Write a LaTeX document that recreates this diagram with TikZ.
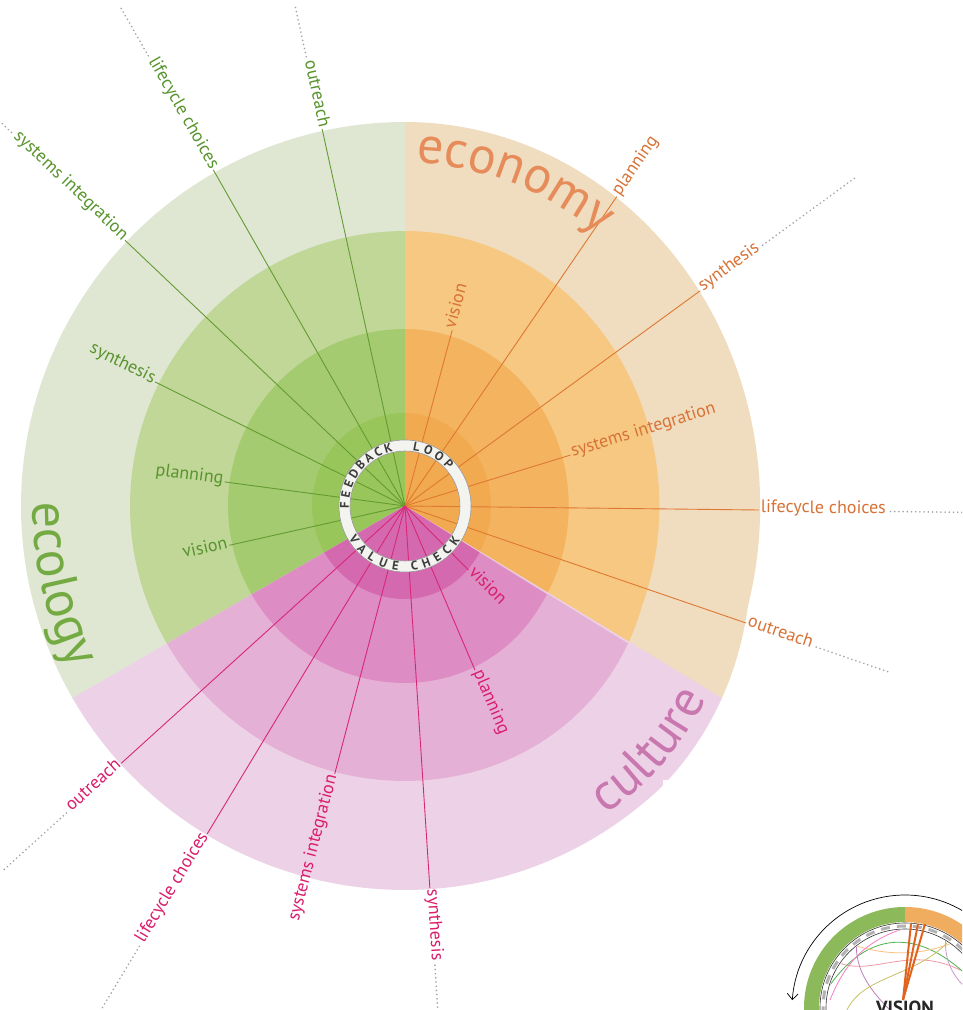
\documentclass[tikz,border=0pt]{standalone}
\usepackage{fontspec}
\setmainfont{PT Sans}
\usetikzlibrary{calc,decorations.text,arrows.meta}
% ring colours
\definecolor{gA}{RGB}{223,231,211}
\definecolor{gB}{RGB}{193,215,152}
\definecolor{gC}{RGB}{165,203,112}
\definecolor{gD}{RGB}{152,198,90}
\definecolor{oA}{RGB}{240,220,190}
\definecolor{oB}{RGB}{246,200,130}
\definecolor{oC}{RGB}{244,180,95}
\definecolor{oD}{RGB}{242,170,80}
\definecolor{pA}{RGB}{237,210,231}
\definecolor{pB}{RGB}{229,176,214}
\definecolor{pC}{RGB}{221,140,196}
\definecolor{pD}{RGB}{213,105,175}
% label / spoke colours
\definecolor{gL}{RGB}{88,148,45}
\definecolor{gS}{RGB}{100,155,50}
\definecolor{oL}{RGB}{215,115,55}
\definecolor{oS}{RGB}{222,120,50}
\definecolor{pL}{RGB}{218,30,108}
\definecolor{pS}{RGB}{214,40,118}
\definecolor{gBig}{RGB}{115,170,65}
\definecolor{oBig}{RGB}{230,140,90}
\definecolor{pBig}{RGB}{200,120,175}
\definecolor{dotc}{RGB}{160,160,170}
\definecolor{ringc}{RGB}{243,243,240}
\definecolor{ringT}{RGB}{60,60,60}
\definecolor{tG}{RGB}{140,185,90}
\definecolor{tO}{RGB}{240,172,95}
\definecolor{tO2}{RGB}{225,100,30}
\newcommand\bigfont{\fontsize{52}{56}\selectfont}
\newcommand\polarpt[3]{\coordinate (#1) at ({405+gx((#3)*cos(#2),(#3)*sin(#2))},{504+(#3)*sin(#2)});}
\newcommand\ringsector[4]{\fill[#1] (ctr) -- plot[domain=#2:#3,samples=100] ({405+gx((#4)*cos(\x),(#4)*sin(\x))},{504+(#4)*sin(\x)}) -- cycle;}
\newcommand\spokeout[5]{\polarpt{#1p}{#2}{#3}%
  \pgfmathsetmacro\spang{atan2((#3)*sin(#2),gx((#3)*cos(#2),(#3)*sin(#2)))}%
  \node[lbl,text=#5L,anchor=mid west,rotate=\spang] (#1) at (#1p) {#4};%
  \draw[spk,#5S] (ctr) -- (#1.mid west);}
\newcommand\spokein[5]{\polarpt{#1p}{#2}{#3}%
  \pgfmathsetmacro\spang{atan2((#3)*sin(#2),gx((#3)*cos(#2),(#3)*sin(#2)))}%
  \node[lbl,text=#5L,anchor=mid east,rotate=\spang+180] (#1) at (#1p) {#4};%
  \draw[spk,#5S] (ctr) -- (#1.mid east);}
\newcommand\dotout[2]{\coordinate (#1d) at ($(ctr)!#2pt!(#1.mid east)$);\draw[dotl,shorten <=3pt] (#1.mid east) -- (#1d);}
\newcommand\dotin[2]{\coordinate (#1d) at ($(ctr)!#2pt!(#1.mid west)$);\draw[dotl,shorten <=3pt] (#1.mid west) -- (#1d);}
\begin{document}
\begin{tikzpicture}[x=1pt,y=1pt,
  declare function={cf(\s)=0.925+0.055*min(max(-(\s)-100,0)/180,1);
                    gx(\d,\s)=((\d)>0)*(\d)*cf(\s)+((\d)<=0)*(\d);},
  lbl/.style={font=\fontsize{18}{20}\selectfont,inner sep=1.5pt},
  spk/.style={line width=0.9pt},
  dotl/.style={dotc,line width=1.8pt,dash pattern=on 0pt off 4.2pt,line cap=round},
  ringtxt/.style={font=\fontsize{12.5}{12.5}\selectfont\bfseries,text=ringT,inner sep=0pt}]
\useasboundingbox (0,0) rectangle (962,1010);
\clip (0,0) rectangle (962,1010);
\fill[white] (0,0) rectangle (962,1010);
\coordinate (ctr) at (405,504);
% ---- rings ----
\ringsector{gA}{89.7}{210.3}{384}
\ringsector{gB}{89.7}{210.3}{275}
\ringsector{gC}{89.7}{210.3}{177}
\ringsector{gD}{89.7}{210.3}{93}
\ringsector{oA}{-30.3}{90}{384}
\ringsector{oB}{-30.3}{90}{275}
\ringsector{oC}{-30.3}{90}{177}
\ringsector{oD}{-30.3}{90}{93}
\ringsector{pA}{210}{330}{384}
\ringsector{pB}{210}{330}{275}
\ringsector{pC}{210}{330}{177}
\ringsector{pD}{210}{330}{93}
% ---- spokes and labels ----
\spokein{g1}{102.4}{386}{outreach}{g}
\spokein{g2}{119.7}{387}{lifecycle choices}{g}
\spokein{g3}{136.5}{386}{systems integration}{g}
\spokein{g4}{153.6}{279}{synthesis}{g}
\spokein{g5}{172.4}{182}{planning}{g}
\spokein{g6}{192.6}{180}{vision}{g}
\spokeout{o1}{73.8}{183}{vision}{o}
\spokeout{o2}{53.5}{385}{planning}{o}
\spokeout{o3}{34.0}{385}{synthesis}{o}
\spokeout{o4}{15.9}{186}{systems integration}{o}
\spokeout{o5}{-0.6}{383}{lifecycle choices}{o}
\spokeout{o6}{-17.7}{385}{outreach}{o}
\spokeout{p1}{-43}{94}{vision}{p}
\spokeout{p2}{-65.7}{180}{planning}{p}
\spokeout{p3}{-86.2}{383}{synthesis}{p}
\spokein{p4}{255.3}{277}{systems integration}{p}
\spokein{p5}{238.9}{383}{lifecycle choices}{p}
\spokein{p6}{222.2}{383}{outreach}{p}
% ---- dotted continuations ----
\dotin{g1}{513}
\dotin{g2}{577}
\dotin{g3}{560}
\dotout{o3}{557}
\dotout{o5}{600}
\dotout{o6}{511}
\dotout{p3}{530}
\dotin{p5}{590}
\dotin{p6}{545}
% ---- feedback loop ring ----
\fill[ringc,even odd rule] (ctr) circle (66) (ctr) circle (55);
\draw[gray!80,line width=0.6pt] (ctr) circle (66);
\draw[gray!80,line width=0.6pt] (ctr) circle (55);
\foreach \ch [count=\i] in {F,E,E,D,B,A,C,K}{\pgfmathsetmacro\aa{179-(\i-1)*10.4}\node[ringtxt,rotate=\aa-90] (rf\i) at ($(ctr)+(\aa:60.5)$) {\ch};}
\foreach \ch [count=\i] in {L,O,O,P}{\pgfmathsetmacro\aa{79-(\i-1)*11.8}\node[ringtxt,rotate=\aa-90] (rl\i) at ($(ctr)+(\aa:60.5)$) {\ch};}
\foreach \ch [count=\i] in {V,A,L,U,E}{\pgfmathsetmacro\aa{213+(\i-1)*12}\node[ringtxt,rotate=\aa+90] (rv\i) at ($(ctr)+(\aa:60.5)$) {\ch};}
\foreach \ch [count=\i] in {C,H,E,C,K}{\pgfmathsetmacro\aa{279+(\i-1)*11.5}\node[ringtxt,rotate=\aa+90] (rc\i) at ($(ctr)+(\aa:60.5)$) {\ch};}
% ---- sector titles ----
\path[decorate,decoration={text along path,text={|\bigfont\color{oBig}|economy}}]
  plot[domain=88:20,samples=80] ({405+gx(343*cos(\x),343*sin(\x))},{504+343*sin(\x)});
\path[decorate,decoration={text along path,text={|\bigfont\color{gBig}|ecology}}]
  plot[domain=179.5:240,samples=80] ({405+gx(372*cos(\x),372*sin(\x))},{504+372*sin(\x)});
\path[decorate,decoration={text along path,text={|\bigfont\color{pBig}|culture}}]
  plot[domain=-56.5:10,samples=80] ({405+gx(370*cos(\x),370*sin(\x))},{504+370*sin(\x)});
% ---- inset (cut-off thumbnail) ----
\fill[white] (663,0) rectangle (962,230);
\coordinate (T) at (905,2);
\draw[tG,line width=15pt] ($(T)+(90:93.5)$) arc[start angle=90,end angle=190,radius=93.5];
\draw[tO,line width=15pt] ($(T)+(0:93.5)$) arc[start angle=0,end angle=90,radius=93.5];
\draw[black,line width=0.7pt,-{Straight Barb[length=6pt,width=11pt]}] ($(T)+(8:113)$) arc[start angle=8,end angle=176,radius=113];
\draw[white,line width=6pt] (T) circle (82);
\draw[gray!60,line width=3pt,dash pattern=on 9pt off 7pt] (T) circle (82);
\draw[black!80,line width=0.6pt] (T) circle (85);
\draw[black!80,line width=0.6pt] (T) circle (79);
\begin{scope}
\clip (T) circle (78);
\draw[pink!80!purple,line width=0.8pt] (820,60) .. controls (860,20) and (900,70) .. (960,40);
\draw[green!40!gray,line width=0.8pt] (830,25) .. controls (880,95) and (940,70) .. (985,15);
\draw[violet!50,line width=0.8pt] (860,85) .. controls (845,40) and (880,10) .. (900,-10);
\draw[orange!50,line width=0.8pt] (840,70) .. controls (900,45) and (950,60) .. (985,85);
\draw[magenta!50,line width=0.8pt] (830,10) .. controls (850,60) and (880,80) .. (940,90);
\draw[olive!50,line width=0.8pt] (845,-5) .. controls (860,40) and (930,30) .. (960,85);
\draw[violet!40,line width=0.8pt] (950,90) .. controls (935,50) and (960,20) .. (985,10);
\end{scope}
\draw[tO2,line width=2pt] (903,10) -- (911,86);
\draw[tO2,line width=2pt] (903,10) -- (918,86);
\draw[tO2,line width=2pt] (903,10) -- (925,86);
\node[font=\bfseries\fontsize{19}{19}\selectfont,anchor=base,text=black!85,inner sep=0pt] (vis) at (905,-5) {VISION};
\end{tikzpicture}
\end{document}
